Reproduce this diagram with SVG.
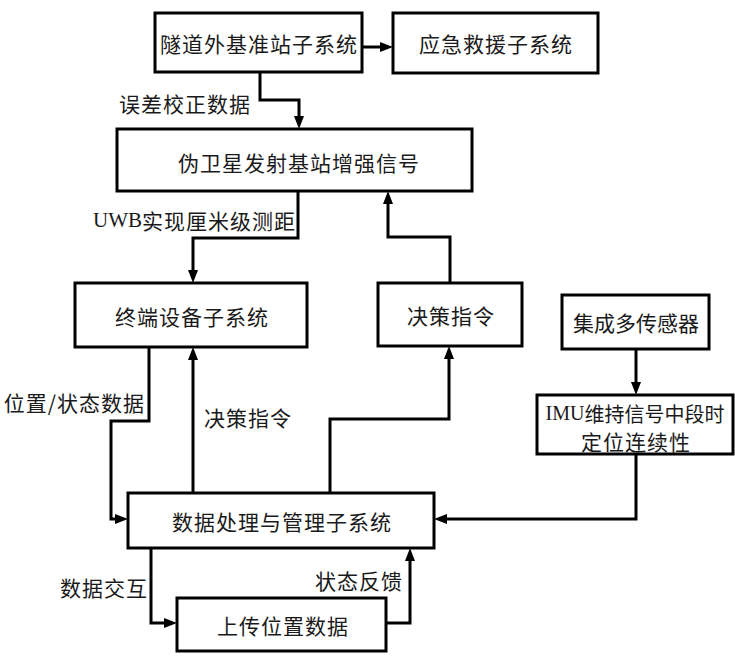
<svg xmlns="http://www.w3.org/2000/svg" width="735" height="657" viewBox="0 0 735 657">
<style>
.box{fill:#fff;stroke:#000;stroke-width:3}
.t{font-family:"Noto Sans CJK SC","Liberation Serif",sans-serif;font-size:21px;fill:#1a1a1a;dominant-baseline:central;letter-spacing:1px}
.c{text-anchor:middle}
.e{text-anchor:end}
.w0{letter-spacing:0}
.lat{font-family:"Liberation Serif","Noto Sans CJK SC",serif;letter-spacing:0}
.ln{fill:none;stroke:#000;stroke-width:3;marker-end:url(#ah)}
</style>
<defs>
<marker id="ah" markerUnits="userSpaceOnUse" markerWidth="14" markerHeight="12" viewBox="0 0 14 12" refX="5" refY="6" orient="auto">
<path d="M0,1 L13,6 L0,11 z" fill="#000"/>
</marker>
</defs>
<rect width="735" height="657" fill="#fff"/>
<g id="connectors">
<path class="ln" d="M362,47 H385"/>
<path class="ln" d="M260,72 V100 H299 V121"/>
<path class="ln" d="M298,191 V238 H193 V275"/>
<path class="ln" d="M450,283 V237 H388 V199"/>
<path class="ln" d="M149,347 V421 H111 V519 H120"/>
<path class="ln" d="M193,493 V355"/>
<path class="ln" d="M330,493 V419 H449 V354"/>
<path class="ln" d="M636,349 V387"/>
<path class="ln" d="M636,454 V519 H442"/>
<path class="ln" d="M151,548 V623 H169"/>
<path class="ln" d="M386,623 H410 V556"/>
</g>
<g id="labels">
<text class="t e" x="251" y="103">误差校正数据</text>
<text class="t e" x="296" y="220"><tspan class="lat">UWB</tspan>实现厘米级测距</text>
<text class="t e" x="145" y="402">位置/状态数据</text>
<text class="t" x="204" y="417">决策指令</text>
<text class="t e" x="148" y="587">数据交互</text>
<text class="t" x="315" y="580">状态反馈</text>
</g>
<g id="n1"><rect class="box" x="155" y="13" width="207" height="59"/><text class="t c" x="259" y="43">隧道外基准站子系统</text></g>
<g id="n2"><rect class="box" x="393" y="13" width="205" height="60"/><text class="t c" x="496" y="43">应急救援子系统</text></g>
<g id="n3"><rect class="box" x="117" y="129" width="355" height="62"/><text class="t c" x="299" y="162">伪卫星发射基站增强信号</text></g>
<g id="n4"><rect class="box" x="75" y="283" width="232" height="64"/><text class="t c" x="192" y="316">终端设备子系统</text></g>
<g id="n5"><rect class="box" x="378" y="283" width="144" height="63"/><text class="t c" x="451" y="315">决策指令</text></g>
<g id="n6"><rect class="box" x="562" y="295" width="147" height="54"/><text class="t c w0" x="636" y="322">集成多传感器</text></g>
<g id="n7"><rect class="box" x="537" y="395" width="196" height="59"/><text class="t c w0" x="635" y="413" style="font-size:20px"><tspan class="lat">IMU</tspan>维持信号中段时</text><text class="t c" x="636" y="441">定位连续性</text></g>
<g id="n8"><rect class="box" x="128" y="493" width="306" height="55"/><text class="t c" x="282" y="521">数据处理与管理子系统</text></g>
<g id="n9"><rect class="box" x="177" y="598" width="209" height="53"/><text class="t c" x="283" y="625">上传位置数据</text></g>
</svg>
